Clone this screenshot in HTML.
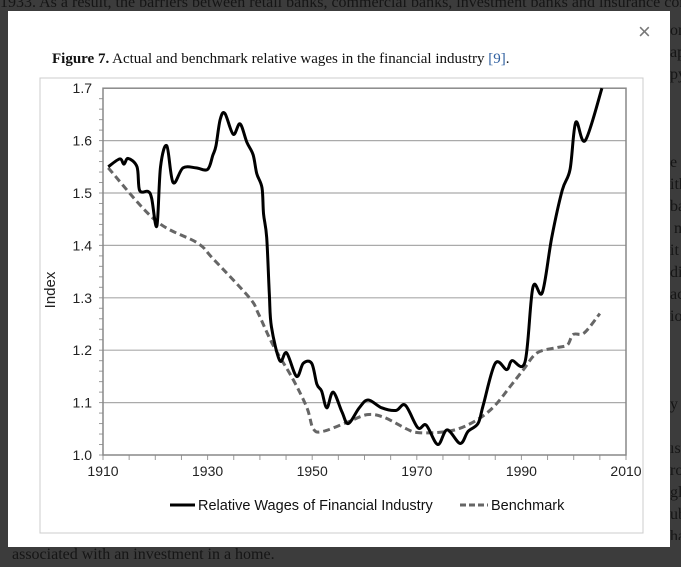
<!DOCTYPE html>
<html style="height:567px;overflow:hidden"><head><meta charset="utf-8"><style>
body{margin:0;width:681px;height:567px;overflow:hidden;background:#3c3c3c;font-family:"Liberation Serif",serif;position:relative}
.bg{position:absolute;color:#151515;font-size:16px;white-space:nowrap}
#modal{position:absolute;left:8px;top:11px;width:662px;height:536px;background:#fff}
</style></head><body>
<div class="bg" style="left:0;top:-6px">1933. As a result, the barriers between retail banks, commercial banks, investment banks and insurance con</div>
<div class="bg" style="left:670px;top:20px;line-height:22px;height:520px;overflow:hidden;white-space:pre">or
ap
py



e c
ith
ba
 n
it 
di
ac
io



y

ıst
ro
gl
ub
ha</div>
<div class="bg" style="left:12px;top:546px">associated with an investment in a home.</div>
<div id="modal">
<div style="position:absolute;left:630px;top:8px;font:22px 'Liberation Sans',sans-serif;color:#777">×</div>
<div style="position:absolute;left:44px;top:40px;font-size:15px;color:#111"><b>Figure 7.</b> Actual and benchmark relative wages in the financial industry <span style="color:#3060a0">[9]</span>.</div>
<svg width="662" height="536" style="position:absolute;left:0;top:0" id="svg" font-family="Liberation Sans, sans-serif">
<rect x="32" y="67" width="603" height="455" fill="#fff" stroke="#ccc"/>
</svg>
</div>
<script>
const years=[1911,1913.2,1914,1914.8,1916.5,1917,1918.6,1919.3,1920.3,1921,1922.2,1923.4,1925.3,1927.8,1930,1931,1931.6,1932.4,1933.3,1934.9,1936.2,1937.5,1938.7,1939.4,1940.4,1940.7,1941.3,1941.8,1942.2,1943.8,1945.1,1947,1948.3,1949.9,1950.9,1951.8,1952.8,1954,1955.7,1956.9,1959,1960.7,1963.3,1966,1967.8,1970.2,1971.8,1974,1975.8,1978.3,1979.8,1981.7,1982.7,1985,1987.2,1988.2,1990.7,1992.2,1994,1995.8,1997.8,1999.3,2000.4,2002.2,2005.4];
const wages=[1.55,1.565,1.555,1.566,1.55,1.505,1.503,1.49,1.437,1.55,1.59,1.52,1.548,1.548,1.545,1.572,1.59,1.64,1.652,1.612,1.632,1.597,1.573,1.537,1.51,1.46,1.415,1.308,1.245,1.18,1.195,1.15,1.175,1.175,1.135,1.122,1.09,1.12,1.082,1.06,1.09,1.105,1.09,1.085,1.095,1.052,1.057,1.02,1.048,1.022,1.045,1.06,1.095,1.175,1.163,1.18,1.178,1.32,1.31,1.415,1.505,1.545,1.635,1.60,1.70];
const benchYears=[1911,1920,1928,1931,1938,1939.7,1942.5,1946.3,1949,1950.2,1952,1956.6,1960.5,1963.7,1968,1970,1974,1978,1982,1985,1987.8,1990.4,1993,1996.8,1998.8,1999.9,2002,2005];
const bench=[1.548,1.448,1.405,1.375,1.30,1.27,1.21,1.145,1.09,1.05,1.045,1.062,1.077,1.072,1.05,1.043,1.043,1.05,1.07,1.095,1.13,1.163,1.195,1.205,1.21,1.23,1.233,1.27];
const yTicks=[1.0,1.1,1.2,1.3,1.4,1.5,1.6,1.7];
const xTicks=[1910,1930,1950,1970,1990,2010];
const ox=8,oy=11;
const X=y=>103-ox+(y-1910)*5.23, Y=v=>455-oy-(v-1.0)*524;
const svg=document.getElementById('svg'),NS='http://www.w3.org/2000/svg';
function mk(t,a){const e=document.createElementNS(NS,t);for(const k in a)e.setAttribute(k,a[k]);svg.appendChild(e);return e;}
yTicks.forEach(v=>{
 if(v>1&&v<1.7){const g=mk('line',{x1:X(1910),x2:X(2010),y1:Y(v),y2:Y(v),stroke:'#aaa','stroke-width':1.2});
 
 }
 const t=mk('text',{x:84,y:Y(v)+5,'text-anchor':'end','font-size':14,fill:'#222'});t.textContent=v.toFixed(1);
 
 
});
for(let v=1.0;v<1.7;v+=0.02){mk('line',{x1:X(1910)-4,x2:X(1910),y1:Y(v),y2:Y(v),stroke:'#999'});}
for(let yr=1910;yr<=2010;yr+=5){mk('line',{x1:X(yr),x2:X(yr),y1:Y(1),y2:Y(1)+5,stroke:'#999'});}
xTicks.forEach(yr=>{const t=mk('text',{x:X(yr),y:Y(1)+21,'text-anchor':'middle','font-size':14,fill:'#222'});t.textContent=yr;
 
 });
const pa=mk('rect',{x:X(1910),y:Y(1.7),width:X(2010)-X(1910),height:Y(1)-Y(1.7),fill:'none',stroke:'#888','stroke-width':1.5});


const yl=mk('text',{x:0,y:0,transform:`translate(${55-ox},${290-oy}) rotate(-90)`,'text-anchor':'middle','font-size':15,fill:'#222'});yl.textContent='Index';


function path(xs,vs){const p=xs.map((x,i)=>[X(x),Y(vs[i])]);let d=`M${p[0][0]},${p[0][1]}`;
 for(let i=0;i<p.length-1;i++){const p0=p[i-1]||p[i],p1=p[i],p2=p[i+1],p3=p[i+2]||p2;
 d+=`C${p1[0]+(p2[0]-p0[0])/6},${p1[1]+(p2[1]-p0[1])/6} ${p2[0]-(p3[0]-p1[0])/6},${p2[1]-(p3[1]-p1[1])/6} ${p2[0]},${p2[1]}`;}return d;}
const b=mk('path',{d:path(benchYears,bench),fill:'none',stroke:'#666','stroke-width':3,'stroke-dasharray':'7,4'});


const w=mk('path',{d:path(years,wages),fill:'none',stroke:'#000','stroke-width':3,'stroke-linejoin':'round'});


const ly=505-oy;
mk('line',{x1:170-ox,x2:195-ox,y1:ly,y2:ly,stroke:'#000','stroke-width':3});
const l1=mk('text',{x:198-ox,y:ly+5,'font-size':14.5,fill:'#111'});l1.textContent='Relative Wages of Financial Industry';


mk('line',{x1:460-ox,x2:488-ox,y1:ly,y2:ly,stroke:'#666','stroke-width':3,'stroke-dasharray':'6,3'});
const l2=mk('text',{x:491-ox,y:ly+5,'font-size':14.5,fill:'#111'});l2.textContent='Benchmark';


</script>
</body></html>
